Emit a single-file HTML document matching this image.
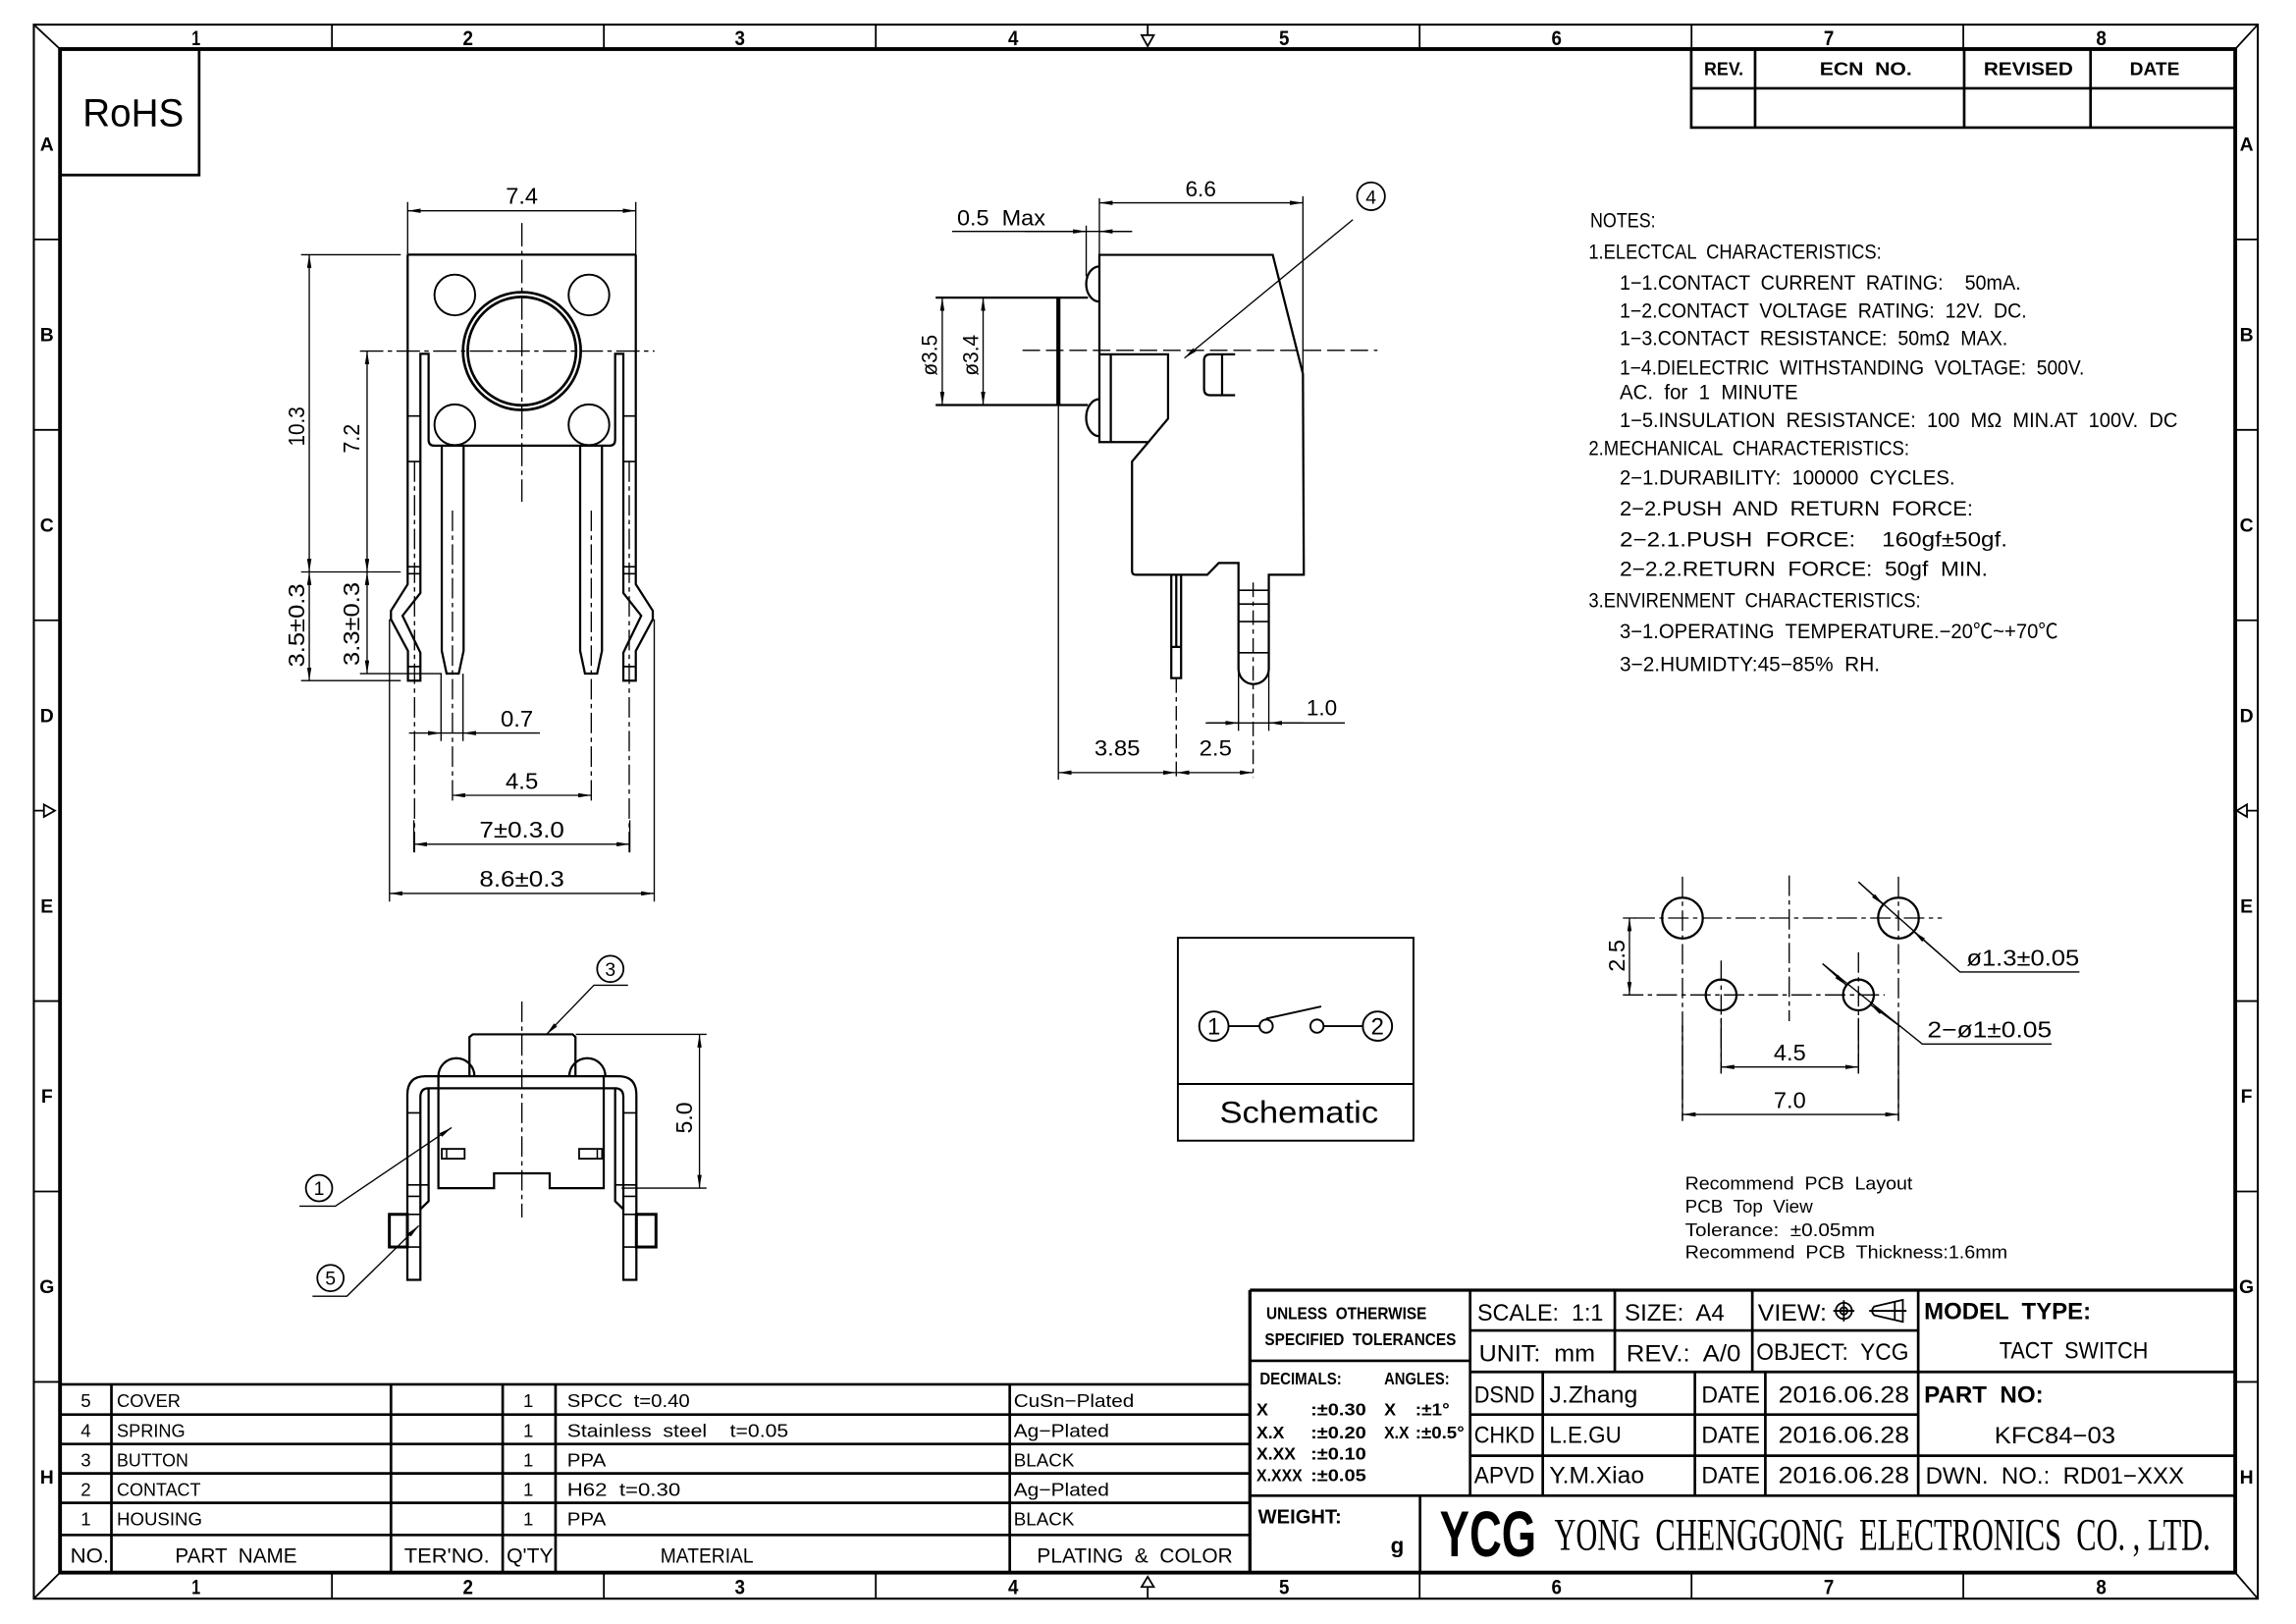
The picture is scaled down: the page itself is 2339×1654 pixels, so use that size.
<!DOCTYPE html>
<html><head><meta charset="utf-8"><style>
html,body{margin:0;padding:0;background:#fff;}
svg{display:block}
text{font-family:"Liberation Sans","Noto Sans CJK SC",sans-serif;fill:#000;stroke:none;white-space:pre}
.b{font-weight:bold}
.s{font-family:"Liberation Serif","Noto Serif CJK SC",serif}
</style></head><body>
<svg width="2339" height="1654" viewBox="0 0 1568 1108.8" preserveAspectRatio="none" xmlns="http://www.w3.org/2000/svg" xml:space="preserve">
<defs>
<marker id="a" viewBox="0 0 9 3" markerWidth="9" markerHeight="3" refX="9" refY="1.5" orient="auto-start-reverse" markerUnits="userSpaceOnUse"><path d="M0,0L9,1.5L0,3z" fill="#000"/></marker>
</defs>
<rect width="1568" height="1108.8" fill="#fff"/>

<!-- FRAME -->
<g fill="none" stroke="#000">
<rect x="23.1" y="16.8" width="1518.8" height="1074.7" stroke-width="1.4"/>
<rect x="41" y="33.5" width="1485.5" height="1040.2" stroke-width="2.6"/>
<path stroke-width="1.2" d="M23.1,16.8L41,33.5M1541.9,16.8L1526.5,33.5M23.1,1091.5L41,1073.7M1541.9,1091.5L1526.5,1073.7
M226.7,16.8V33.5M412.4,16.8V33.5M598.1,16.8V33.5M969.5,16.8V33.5M1155.2,16.8V33.5M1340.8,16.8V33.5
M226.7,1073.7V1091.5M412.4,1073.7V1091.5M598.1,1073.7V1091.5M969.5,1073.7V1091.5M1155.2,1073.7V1091.5M1340.8,1073.7V1091.5
M23.1,163.5H41M23.1,293.5H41M23.1,423.5H41M23.1,683.5H41M23.1,813.5H41M23.1,943.5H41
M1526.5,163.5H1541.9M1526.5,293.5H1541.9M1526.5,423.5H1541.9M1526.5,683.5H1541.9M1526.5,813.5H1541.9M1526.5,943.5H1541.9
M783.8,16.8V24M779.6,24H788L783.8,31.5Z
M783.8,1091.5V1083.5M779.6,1083.5H788L783.8,1076.5Z
M23.1,553.5H30M30,549.3V557.7L37.5,553.5Z
M1541.9,553.5H1534.5M1534.5,549.3V557.7L1527.5,553.5Z"/>
</g>
<g class="b" font-size="14" text-anchor="middle">
<text x="133.9" y="31" textLength="6" lengthAdjust="spacingAndGlyphs">1</text>
<text x="319.6" y="31" textLength="7" lengthAdjust="spacingAndGlyphs">2</text>
<text x="505.3" y="31" textLength="7" lengthAdjust="spacingAndGlyphs">3</text>
<text x="692" y="31" textLength="7" lengthAdjust="spacingAndGlyphs">4</text>
<text x="877" y="31" textLength="7" lengthAdjust="spacingAndGlyphs">5</text>
<text x="1063" y="31" textLength="7" lengthAdjust="spacingAndGlyphs">6</text>
<text x="1249" y="31" textLength="7" lengthAdjust="spacingAndGlyphs">7</text>
<text x="1435" y="31" textLength="7" lengthAdjust="spacingAndGlyphs">8</text>
<text x="133.9" y="1088.5" textLength="6" lengthAdjust="spacingAndGlyphs">1</text>
<text x="319.6" y="1088.5" textLength="7" lengthAdjust="spacingAndGlyphs">2</text>
<text x="505.3" y="1088.5" textLength="7" lengthAdjust="spacingAndGlyphs">3</text>
<text x="692" y="1088.5" textLength="7" lengthAdjust="spacingAndGlyphs">4</text>
<text x="877" y="1088.5" textLength="7" lengthAdjust="spacingAndGlyphs">5</text>
<text x="1063" y="1088.5" textLength="7" lengthAdjust="spacingAndGlyphs">6</text>
<text x="1249" y="1088.5" textLength="7" lengthAdjust="spacingAndGlyphs">7</text>
<text x="1435" y="1088.5" textLength="7" lengthAdjust="spacingAndGlyphs">8</text>
</g>
<g class="b" font-size="13" text-anchor="middle">
<text x="32" y="103">A</text><text x="32" y="233">B</text><text x="32" y="363">C</text><text x="32" y="493">D</text>
<text x="32" y="623">E</text><text x="32" y="753">F</text><text x="32" y="883">G</text><text x="32" y="1013">H</text>
<text x="1534.2" y="103">A</text><text x="1534.2" y="233">B</text><text x="1534.2" y="363">C</text><text x="1534.2" y="493">D</text>
<text x="1534.2" y="623">E</text><text x="1534.2" y="753">F</text><text x="1534.2" y="883">G</text><text x="1534.2" y="1013">H</text>
</g>

<!-- RoHS -->
<path d="M136,33.5V119.5H41" fill="none" stroke="#000" stroke-width="1.8"/>
<text x="56.5" y="86" font-size="27" textLength="69" lengthAdjust="spacingAndGlyphs">RoHS</text>

<!-- REV table -->
<path d="M1155,33.5V87.1H1526.5M1155,60.3H1526.5M1198.6,33.5V87.1M1341.4,33.5V87.1M1427.7,33.5V87.1" fill="none" stroke="#000" stroke-width="1.8"/>
<g class="b" font-size="12.5">
<text x="1163.8" y="51.4" textLength="26.8" lengthAdjust="spacingAndGlyphs">REV.</text>
<text x="1242.7" y="51.4" textLength="63" lengthAdjust="spacingAndGlyphs">ECN  NO.</text>
<text x="1354.7" y="51.4" textLength="61" lengthAdjust="spacingAndGlyphs">REVISED</text>
<text x="1454.5" y="51.4" textLength="34" lengthAdjust="spacingAndGlyphs">DATE</text>
</g>

<!-- FRONT VIEW -->
<g fill="none" stroke="#000" stroke-width="1.5">
<path d="M278.4,173.9H434.2"/>
<path d="M278.4,173.9V398.9L267,417V422.8L278.6,444.4V464.7H287.1V445.6L274.9,420.4L287.1,404.9V241.6H292.7V300.3Q292.7,304.3 296.7,304.3H416.1Q420.1,304.3 420.1,300.3V241.6H425.7V404.9L437.9,420.4L425.7,445.6V464.7H434.2V444.4L445.8,422.8V417L434.2,398.9V173.9"/>
<path stroke-width="1.1" d="M278.4,284H287.1M278.4,315.1H287.1M278.4,386.9H287.1M278.4,391.7H287.1M278.6,455.1H287.1
M425.7,284H434.2M425.7,315.1H434.2M425.7,386.9H434.2M425.7,391.7H434.2M425.7,455.1H434.2"/>
<circle cx="356.4" cy="239.7" r="40.2" stroke-width="1.8"/>
<circle cx="356.4" cy="239.7" r="37" stroke-width="1.8"/>
<circle cx="310.6" cy="201.4" r="13.9" stroke-width="1.3"/>
<circle cx="402.2" cy="201.4" r="13.9" stroke-width="1.3"/>
<circle cx="310.6" cy="290" r="13.9" stroke-width="1.3"/>
<circle cx="402.2" cy="290" r="13.9" stroke-width="1.3"/>
<path d="M301.7,304.3V444.4L305,459.9H313.3L316.6,444.4V304.3"/>
<path d="M396.2,304.3V444.4L399.5,459.9H407.8L411.1,444.4V304.3"/>
</g>
<g fill="none" stroke="#000" stroke-width="0.9">
<path stroke-dasharray="16 3 3 3" d="M356.4,152.3V342.6M245.8,239.7H447"/>
<path stroke-dasharray="14 3 3 3" d="M309,348.6V548.6M403.8,348.6V548.6M283.1,315V582M429.7,315V582"/>
<path d="M278.4,137.9V173.9M434.2,137.9V173.9M205.6,173.9H273.7M205.6,390.5H273.7M205.6,464.7H273.7M245.8,459.9H301.7
M301.2,460V506M316.2,460V506M266,422.8V615.6M446.8,422.8V615.6M282.6,560V582M430.1,560V582"/>
<path marker-start="url(#a)" marker-end="url(#a)" d="M278.4,143.9H434.2"/>
<path marker-start="url(#a)" marker-end="url(#a)" d="M211.2,173.9V390.5"/>
<path marker-start="url(#a)" marker-end="url(#a)" d="M250.7,239.7V390.5"/>
<path marker-start="url(#a)" marker-end="url(#a)" d="M211.2,390.5V464.7"/>
<path marker-start="url(#a)" marker-end="url(#a)" d="M250.7,390.5V459.9"/>
<path marker-end="url(#a)" d="M279.3,500.5H301.2"/>
<path marker-end="url(#a)" d="M368.7,500.5H316.2"/>
<path d="M301.2,500.5H316.2"/>
<path marker-start="url(#a)" marker-end="url(#a)" d="M308.8,543H403.8"/>
<path marker-start="url(#a)" marker-end="url(#a)" d="M282.6,576.4H430.1"/>
<path marker-start="url(#a)" marker-end="url(#a)" d="M266,610H446.8"/>
</g>
<g font-size="15.5" text-anchor="middle">
<text x="356.4" y="139.1" textLength="22" lengthAdjust="spacingAndGlyphs">7.4</text>
<text transform="translate(207.8,291.2) rotate(-90)" textLength="27" lengthAdjust="spacingAndGlyphs">10.3</text>
<text transform="translate(245.5,299.5) rotate(-90)" textLength="20" lengthAdjust="spacingAndGlyphs">7.2</text>
<text transform="translate(207.8,427) rotate(-90)" textLength="57" lengthAdjust="spacingAndGlyphs">3.5±0.3</text>
<text transform="translate(245.5,426) rotate(-90)" textLength="57" lengthAdjust="spacingAndGlyphs">3.3±0.3</text>
<text x="353" y="496" textLength="22.3" lengthAdjust="spacingAndGlyphs">0.7</text>
<text x="356.4" y="538.5" textLength="22.3" lengthAdjust="spacingAndGlyphs">4.5</text>
<text x="356.4" y="572" textLength="58" lengthAdjust="spacingAndGlyphs">7±0.3.0</text>
<text x="356.4" y="605.5" textLength="58" lengthAdjust="spacingAndGlyphs">8.6±0.3</text>
</g>

<!-- SIDE VIEW -->
<g fill="none" stroke="#000" stroke-width="1.5">
<path d="M750.8,174V301.8H784.3L773.1,315.1V389.9Q773.1,392.4 775.6,392.4H824.5L832.3,384.4H845.8V456.7A10.35,10.35 0 0 0 866.5,456.7V392.4H890.4L889.8,255.2L869.2,174Z"/>
<path d="M784.3,301.8L797.7,285.8V241.9H750.8M758.6,241.9V301.8"/>
<path d="M750.8,181.9A9,12 0 0 0 750.8,205.9M750.8,272.5A9,12.6 0 0 0 750.8,297.8"/>
<path d="M639,203.2H743M639,276.5H743"/>
<path stroke-width="2.8" d="M722.8,203.2V276.5"/>
<path d="M843.5,241.9H826.5Q822.3,241.9 822.3,246.1V265.6Q822.3,269.8 826.5,269.8H843.5M834.6,241.9V269.8"/>
<path d="M799.9,392.4V463H806.6V392.4M803.3,392.4V441.7M799.9,441.7H806.6"/>
<path stroke-width="1.1" d="M845.8,403H866.5M845.8,412.4H866.5M845.8,424.4H866.5M845.8,445.7H866.5"/>
<circle cx="936.3" cy="134" r="9.5" stroke-width="1.2"/>
</g>
<g fill="none" stroke="#000" stroke-width="0.9">
<path stroke-dasharray="12 4" d="M698.3,239.2H940.7"/>
<path stroke-dasharray="10 3 3 3" d="M855.8,397.7V531M803.3,463V531"/>
<path d="M750.8,135.3V174M889.8,134V255.2M741.8,154V188.6M722.8,276.5V532.3M845.8,456.7V499M866.5,456.7V499"/>
<path marker-start="url(#a)" marker-end="url(#a)" d="M750.8,138.5H889.8"/>
<path d="M650.2,158H773.1"/>
<path marker-end="url(#a)" d="M700,158H741.8"/>
<path marker-end="url(#a)" d="M773.1,158H750.8"/>
<path marker-start="url(#a)" marker-end="url(#a)" d="M643.5,203.2V276.5"/>
<path marker-start="url(#a)" marker-end="url(#a)" d="M671.4,203.2V276.5"/>
<path marker-start="url(#a)" marker-end="url(#a)" d="M722.8,527.5H803.3"/>
<path marker-start="url(#a)" marker-end="url(#a)" d="M803.3,527.5H855.8"/>
<path d="M823.4,493.6H918.4"/>
<path marker-end="url(#a)" d="M825,493.6H845.8"/>
<path marker-end="url(#a)" d="M890,493.6H866.5"/>
<path marker-end="url(#a)" d="M923.9,150L808.9,244.5"/>
</g>
<g font-size="15" text-anchor="middle">
<text x="820" y="134" textLength="21" lengthAdjust="spacingAndGlyphs">6.6</text>
<text x="653.6" y="154" text-anchor="start" textLength="60.3" lengthAdjust="spacingAndGlyphs">0.5  Max</text>
<text transform="translate(640,242.5) rotate(-90)" textLength="28" lengthAdjust="spacingAndGlyphs">ø3.5</text>
<text transform="translate(668,242.5) rotate(-90)" textLength="28" lengthAdjust="spacingAndGlyphs">ø3.4</text>
<text x="763" y="516" textLength="31.3" lengthAdjust="spacingAndGlyphs">3.85</text>
<text x="830.1" y="516" textLength="22.3" lengthAdjust="spacingAndGlyphs">2.5</text>
<text x="902.7" y="488.3" textLength="21" lengthAdjust="spacingAndGlyphs">1.0</text>
<text x="936.3" y="139" font-size="13">4</text>
</g>

<!-- NOTES -->
<g font-size="14">
<text x="1086" y="155.3" textLength="44.7" lengthAdjust="spacingAndGlyphs">NOTES:</text>
<text x="1084.9" y="176.6" textLength="200" lengthAdjust="spacingAndGlyphs">1.ELECTCAL  CHARACTERISTICS:</text>
<text x="1106.1" y="197.8" textLength="274" lengthAdjust="spacingAndGlyphs">1−1.CONTACT  CURRENT  RATING:    50mA.</text>
<text x="1106.1" y="216.8" textLength="278" lengthAdjust="spacingAndGlyphs">1−2.CONTACT  VOLTAGE  RATING:  12V.  DC.</text>
<text x="1106.1" y="235.8" textLength="265" lengthAdjust="spacingAndGlyphs">1−3.CONTACT  RESISTANCE:  50mΩ  MAX.</text>
<text x="1106.1" y="255.9" textLength="317.3" lengthAdjust="spacingAndGlyphs">1−4.DIELECTRIC  WITHSTANDING  VOLTAGE:  500V.</text>
<text x="1106.1" y="272.6" textLength="121.8" lengthAdjust="spacingAndGlyphs">AC.  for  1  MINUTE</text>
<text x="1106.1" y="291.6" textLength="381" lengthAdjust="spacingAndGlyphs">1−5.INSULATION  RESISTANCE:  100  MΩ  MIN.AT  100V.  DC</text>
<text x="1084.9" y="310.6" textLength="219" lengthAdjust="spacingAndGlyphs">2.MECHANICAL  CHARACTERISTICS:</text>
<text x="1106.1" y="330.8" textLength="229" lengthAdjust="spacingAndGlyphs">2−1.DURABILITY:  100000  CYCLES.</text>
<text x="1106.1" y="352" textLength="241.3" lengthAdjust="spacingAndGlyphs">2−2.PUSH  AND  RETURN  FORCE:</text>
<text x="1106.1" y="373.2" textLength="264.8" lengthAdjust="spacingAndGlyphs">2−2.1.PUSH  FORCE:    160gf±50gf.</text>
<text x="1106.1" y="393.3" textLength="251.4" lengthAdjust="spacingAndGlyphs">2−2.2.RETURN  FORCE:  50gf  MIN.</text>
<text x="1084.9" y="414.5" textLength="226.8" lengthAdjust="spacingAndGlyphs">3.ENVIRENMENT  CHARACTERISTICS:</text>
<text x="1106.1" y="435.8" textLength="299.4" lengthAdjust="spacingAndGlyphs">3−1.OPERATING  TEMPERATURE.−20℃~+70℃</text>
<text x="1106.1" y="458.1" textLength="177.7" lengthAdjust="spacingAndGlyphs">3−2.HUMIDTY:45−85%  RH.</text>
</g>

<!-- PCB LAYOUT -->
<g fill="none" stroke="#000">
<circle cx="1149" cy="626.8" r="13.9" stroke-width="1.5"/>
<circle cx="1296.5" cy="626.8" r="13.9" stroke-width="1.5"/>
<circle cx="1175.4" cy="679.3" r="10.5" stroke-width="1.5"/>
<circle cx="1269.2" cy="679.3" r="10.5" stroke-width="1.5"/>
<g stroke-width="0.9">
<path stroke-dasharray="14 3 3 3" d="M1221.9,597.7V697.2M1116.2,626.8H1326.2M1108.3,679.3H1287.1M1149,598.6V765.3M1296.5,598.6V765.3M1175.4,655.8V733M1269.2,650.2V733"/>
<path d="M1108.3,626.8H1117M1149,700V765.3M1296.5,700V765.3M1175.4,695V733M1269.2,695V733"/>
<path marker-start="url(#a)" marker-end="url(#a)" d="M1112.8,626.8V679.3"/>
<path marker-start="url(#a)" marker-end="url(#a)" d="M1175.4,728.5H1269.2"/>
<path marker-start="url(#a)" marker-end="url(#a)" d="M1149,760.9H1296.5"/>
<path d="M1269.2,602.2L1338.5,663.6H1420.1M1244.7,658L1312.8,712.8H1401.1"/>
<path marker-end="url(#a)" d="M1269.2,602.2L1286.1,617.6"/>
<path marker-end="url(#a)" d="M1326,652.5L1306.9,636"/>
<path marker-end="url(#a)" d="M1244.7,658L1261,672.7"/>
<path marker-end="url(#a)" d="M1298,701L1277.4,685.9"/>
</g>
</g>
<g font-size="15.5">
<text transform="translate(1109.5,652.5) rotate(-90)" text-anchor="middle" textLength="22" lengthAdjust="spacingAndGlyphs">2.5</text>
<text x="1222.3" y="724" text-anchor="middle" textLength="22" lengthAdjust="spacingAndGlyphs">4.5</text>
<text x="1222.3" y="756.4" text-anchor="middle" textLength="22" lengthAdjust="spacingAndGlyphs">7.0</text>
<text x="1343" y="659.2" textLength="77" lengthAdjust="spacingAndGlyphs">ø1.3±0.05</text>
<text x="1316.2" y="708.3" textLength="85" lengthAdjust="spacingAndGlyphs">2−ø1±0.05</text>
</g>
<g font-size="12.5">
<text x="1150.8" y="812.3" textLength="155.3" lengthAdjust="spacingAndGlyphs">Recommend  PCB  Layout</text>
<text x="1150.8" y="827.9" textLength="87.2" lengthAdjust="spacingAndGlyphs">PCB  Top  View</text>
<text x="1150.8" y="844" textLength="129.6" lengthAdjust="spacingAndGlyphs">Tolerance:  ±0.05mm</text>
<text x="1150.8" y="859.2" textLength="220.2" lengthAdjust="spacingAndGlyphs">Recommend  PCB  Thickness:1.6mm</text>
</g>

<!-- BOTTOM VIEW -->
<g fill="none" stroke="#000" stroke-width="1.5">
<path d="M320.6,734.8V708L322.9,706.2H391.1L393,708V734.8"/>
<path d="M299.4,734.8A12.3,12.3 0 0 1 324,734.8M388.8,734.8A12.3,12.3 0 0 1 413.4,734.8"/>
<path d="M290.5,734.8H422.3Q434.6,734.8 434.6,747.5V873.8H425.7V749Q425.7,743 420.1,743H292.7Q287.1,743 287.1,749V873.8H278.2V747.5Q278.2,734.8 290.5,734.8Z"/>
<path d="M299.4,734.8V811.2H337.4V801.1H375.4V811.2H412.3V734.8"/>
<path d="M292.7,743V820.1L287.1,825.6M420.1,743V820.1L425.7,825.6"/>
<path stroke-width="1.1" d="M278.2,759.8H287.1M278.2,809H292.7M278.2,816.8H287.1M425.7,759.8H434.6M420.1,809H434.6M425.7,816.8H434.6M278.2,829.1H287.1M278.2,851.4H287.1M425.7,829.1H434.6M425.7,851.4H434.6"/>
<rect x="265.9" y="829.1" width="12.3" height="22.3" stroke-width="2"/>
<rect x="434.6" y="829.1" width="13.4" height="22.3" stroke-width="2"/>
<rect x="301.7" y="784.4" width="15.6" height="6.7" stroke-width="1.2"/>
<rect x="395.5" y="784.4" width="15.7" height="6.7" stroke-width="1.2"/>
<path stroke-width="1" d="M305,784.4V791.1M407.9,784.4V791.1"/>
<circle cx="416.8" cy="661.5" r="9" stroke-width="1.2"/>
<circle cx="217.9" cy="811.2" r="9" stroke-width="1.2"/>
<circle cx="225.7" cy="872.6" r="9" stroke-width="1.2"/>
</g>
<g fill="none" stroke="#000" stroke-width="0.9">
<path stroke-dasharray="14 3 3 3" d="M356.4,683.8V831.3"/>
<path d="M393.3,706.2H482.5M424.5,811.2H482.5"/>
<path marker-start="url(#a)" marker-end="url(#a)" d="M477.7,706.2V811.2"/>
<path marker-end="url(#a)" d="M428.9,672.7H405.6L373.2,706.2"/>
<path marker-end="url(#a)" d="M204.5,823.5H229L308.4,769.9"/>
<path marker-end="url(#a)" d="M213.4,885H236.9L286,836.9"/>
</g>
<g font-size="13" text-anchor="middle">
<text transform="translate(472.5,763.2) rotate(-90)" font-size="15.5" textLength="21.3" lengthAdjust="spacingAndGlyphs">5.0</text>
<text x="416.8" y="666.2">3</text>
<text x="217.9" y="815.9">1</text>
<text x="225.7" y="877.3">5</text>
</g>

<!-- SCHEMATIC -->
<g fill="none" stroke="#000" stroke-width="1.3">
<rect x="804.4" y="640.3" width="160.9" height="138.5"/>
<path d="M804.4,740.1H965.3"/>
<circle cx="829" cy="700.6" r="10"/>
<circle cx="940.7" cy="700.6" r="10"/>
<circle cx="864.7" cy="700.6" r="4.5"/>
<circle cx="899.4" cy="700.6" r="4.5"/>
<path d="M839,700.6H860.2M903.9,700.6H930.7M864.7,695.5L902.3,687.2"/>
</g>
<text x="829" y="706.3" font-size="16" text-anchor="middle">1</text>
<text x="940.7" y="706.3" font-size="16" text-anchor="middle">2</text>
<text x="887.1" y="766.5" font-size="21" text-anchor="middle" textLength="108.4" lengthAdjust="spacingAndGlyphs">Schematic</text>

<!-- PARTS TABLE -->
<g fill="none" stroke="#000" stroke-width="1.8">
<path d="M41,945.2H853.6M41,965.8H853.6M41,985.9H853.6M41,1006H853.6M41,1026.1H853.6M41,1048H853.6"/>
<path d="M76.1,945.2V1073.7M267,945.2V1073.7M343.3,945.2V1073.7M379.4,945.2V1073.7M689.6,945.2V1073.7"/>
</g>
<g font-size="12.5">
<text x="58.6" y="960.8" text-anchor="middle">5</text>
<text x="58.6" y="981" text-anchor="middle">4</text>
<text x="58.6" y="1001.1" text-anchor="middle">3</text>
<text x="58.6" y="1021.2" text-anchor="middle">2</text>
<text x="58.6" y="1041.3" text-anchor="middle">1</text>
<text x="79.8" y="960.8" textLength="43.5" lengthAdjust="spacingAndGlyphs">COVER</text>
<text x="79.8" y="981" textLength="46.7" lengthAdjust="spacingAndGlyphs">SPRING</text>
<text x="79.8" y="1001.1" textLength="48.8" lengthAdjust="spacingAndGlyphs">BUTTON</text>
<text x="79.8" y="1021.2" textLength="57.3" lengthAdjust="spacingAndGlyphs">CONTACT</text>
<text x="79.8" y="1041.3" textLength="58.3" lengthAdjust="spacingAndGlyphs">HOUSING</text>
<text x="360.8" y="960.8" text-anchor="middle">1</text>
<text x="360.8" y="981" text-anchor="middle">1</text>
<text x="360.8" y="1001.1" text-anchor="middle">1</text>
<text x="360.8" y="1021.2" text-anchor="middle">1</text>
<text x="360.8" y="1041.3" text-anchor="middle">1</text>
<text x="387.3" y="960.8" textLength="83.8" lengthAdjust="spacingAndGlyphs">SPCC  t=0.40</text>
<text x="387.3" y="981" textLength="151.1" lengthAdjust="spacingAndGlyphs">Stainless  steel    t=0.05</text>
<text x="387.3" y="1001.1" textLength="26.5" lengthAdjust="spacingAndGlyphs">PPA</text>
<text x="387.3" y="1021.2" textLength="77.4" lengthAdjust="spacingAndGlyphs">H62  t=0.30</text>
<text x="387.3" y="1041.3" textLength="26.5" lengthAdjust="spacingAndGlyphs">PPA</text>
<text x="692.3" y="960.8" textLength="82.2" lengthAdjust="spacingAndGlyphs">CuSn−Plated</text>
<text x="692.3" y="981" textLength="65.2" lengthAdjust="spacingAndGlyphs">Ag−Plated</text>
<text x="692.3" y="1001.1" textLength="41.4" lengthAdjust="spacingAndGlyphs">BLACK</text>
<text x="692.3" y="1021.2" textLength="65.2" lengthAdjust="spacingAndGlyphs">Ag−Plated</text>
<text x="692.3" y="1041.3" textLength="41.4" lengthAdjust="spacingAndGlyphs">BLACK</text>
<g font-size="14">
<text x="48" y="1067" textLength="26.5" lengthAdjust="spacingAndGlyphs">NO.</text>
<text x="119.6" y="1067" textLength="83.2" lengthAdjust="spacingAndGlyphs">PART  NAME</text>
<text x="276" y="1067" textLength="58.3" lengthAdjust="spacingAndGlyphs">TER'NO.</text>
<text x="346" y="1067" textLength="31.8" lengthAdjust="spacingAndGlyphs">Q'TY</text>
<text x="451" y="1067" textLength="63.6" lengthAdjust="spacingAndGlyphs">MATERIAL</text>
<text x="708.2" y="1067" textLength="133.6" lengthAdjust="spacingAndGlyphs">PLATING  &amp;  COLOR</text>
</g>
</g>

<!-- TITLE BLOCK -->
<g fill="none" stroke="#000" stroke-width="1.8">
<path stroke-width="2.2" d="M853.6,880.9H1526.5M853.6,880.9V1073.7"/>
<path d="M1004,880.9V1021.2M853.6,929.1H1004M853.6,1021.2H1526.5M969.8,1021.2V1073.7
M1004,908.4H1310M1004,936.7H1526.5M1004,965.8H1310M1004,993.9H1526.5
M1102.8,880.9V936.7M1196.7,880.9V936.7M1053.6,936.7V1021.2M1157.5,936.7V1021.2M1205.6,936.7V1021.2M1310,880.9V1021.2"/>
</g>
<g class="b" font-size="12">
<text x="864.8" y="900.5" textLength="109.5" lengthAdjust="spacingAndGlyphs">UNLESS  OTHERWISE</text>
<text x="863.7" y="918.4" textLength="130.7" lengthAdjust="spacingAndGlyphs">SPECIFIED  TOLERANCES</text>
<text x="860.3" y="945.2" textLength="55.9" lengthAdjust="spacingAndGlyphs">DECIMALS:</text>
<text x="945.3" y="945.2" textLength="44.6" lengthAdjust="spacingAndGlyphs">ANGLES:</text>
<text x="858.1" y="966.5">X</text>
<text x="895" y="966.5" textLength="38" lengthAdjust="spacingAndGlyphs">:±0.30</text>
<text x="945.3" y="966.5">X</text>
<text x="966.5" y="966.5" textLength="23.5" lengthAdjust="spacingAndGlyphs">:±1°</text>
<text x="858.1" y="982.1" textLength="19" lengthAdjust="spacingAndGlyphs">X.X</text>
<text x="895" y="982.1" textLength="38" lengthAdjust="spacingAndGlyphs">:±0.20</text>
<text x="945.3" y="982.1" textLength="17" lengthAdjust="spacingAndGlyphs">X.X</text>
<text x="966.5" y="982.1" textLength="33.5" lengthAdjust="spacingAndGlyphs">:±0.5°</text>
<text x="858.1" y="996.6" textLength="26.8" lengthAdjust="spacingAndGlyphs">X.XX</text>
<text x="895" y="996.6" textLength="38" lengthAdjust="spacingAndGlyphs">:±0.10</text>
<text x="858.1" y="1011.2" textLength="31.3" lengthAdjust="spacingAndGlyphs">X.XXX</text>
<text x="895" y="1011.2" textLength="38" lengthAdjust="spacingAndGlyphs">:±0.05</text>
<text x="859.2" y="1040.2" font-size="13.5" textLength="57" lengthAdjust="spacingAndGlyphs">WEIGHT:</text>
<text x="949.7" y="1060.3" font-size="15">g</text>
</g>
<g font-size="16">
<text x="1008.9" y="901.7" textLength="86.1" lengthAdjust="spacingAndGlyphs">SCALE:  1:1</text>
<text x="1109.5" y="901.7" textLength="68.2" lengthAdjust="spacingAndGlyphs">SIZE:  A4</text>
<text x="1010" y="929.6" textLength="79.4" lengthAdjust="spacingAndGlyphs">UNIT:  mm</text>
<text x="1110.6" y="929.6" textLength="78.2" lengthAdjust="spacingAndGlyphs">REV.:  A/0</text>
<text x="1200.5" y="901.7" textLength="47" lengthAdjust="spacingAndGlyphs">VIEW:</text>
<text x="1199.5" y="928.5" textLength="104" lengthAdjust="spacingAndGlyphs">OBJECT:  YCG</text>
<text x="1006.7" y="957.5" textLength="41.4" lengthAdjust="spacingAndGlyphs">DSND</text>
<text x="1058.1" y="957.5" textLength="60.3" lengthAdjust="spacingAndGlyphs">J.Zhang</text>
<text x="1162" y="957.5" textLength="40" lengthAdjust="spacingAndGlyphs">DATE</text>
<text x="1214.5" y="957.5" textLength="89.4" lengthAdjust="spacingAndGlyphs">2016.06.28</text>
<text x="1006.7" y="985" textLength="41.4" lengthAdjust="spacingAndGlyphs">CHKD</text>
<text x="1058.1" y="985" textLength="49.2" lengthAdjust="spacingAndGlyphs">L.E.GU</text>
<text x="1162" y="985" textLength="40" lengthAdjust="spacingAndGlyphs">DATE</text>
<text x="1214.5" y="985" textLength="89.4" lengthAdjust="spacingAndGlyphs">2016.06.28</text>
<text x="1006.7" y="1012.5" textLength="41.4" lengthAdjust="spacingAndGlyphs">APVD</text>
<text x="1058.1" y="1012.5" textLength="64.8" lengthAdjust="spacingAndGlyphs">Y.M.Xiao</text>
<text x="1162" y="1012.5" textLength="40" lengthAdjust="spacingAndGlyphs">DATE</text>
<text x="1214.5" y="1012.5" textLength="89.4" lengthAdjust="spacingAndGlyphs">2016.06.28</text>
<text x="1365.4" y="927.4" textLength="101.6" lengthAdjust="spacingAndGlyphs">TACT  SWITCH</text>
<text x="1362" y="985.5" textLength="82.7" lengthAdjust="spacingAndGlyphs">KFC84−03</text>
<text x="1315" y="1013" textLength="176.6" lengthAdjust="spacingAndGlyphs">DWN.  NO.:  RD01−XXX</text>
</g>
<g class="s b" font-size="16">
<text x="1314" y="900.5" textLength="114" lengthAdjust="spacingAndGlyphs">MODEL  TYPE:</text>
<text x="1314" y="957.5" textLength="81.5" lengthAdjust="spacingAndGlyphs">PART  NO:</text>
</g>
<!-- view symbol -->
<g fill="none" stroke="#000" stroke-width="1.2">
<circle cx="1259.2" cy="895" r="5.5"/>
<circle cx="1259.2" cy="895" r="2.5"/>
<path d="M1252,895H1266.4M1259.2,887.8V902.2"/>
<path d="M1280,892L1299.5,887.5V902.5L1280,898Q1277,895 1280,892Z"/>
<path d="M1276.5,895H1302M1294,888.6V901.4"/>
</g>
<!-- logo and company -->
<text x="983.2" y="1062.6" class="b" font-size="44" textLength="66" lengthAdjust="spacingAndGlyphs">YCG</text>
<text x="1061.5" y="1058.1" class="s" font-size="31" textLength="448" lengthAdjust="spacingAndGlyphs">YONG  CHENGGONG  ELECTRONICS  CO. , LTD.</text>
</svg>
</body></html>
